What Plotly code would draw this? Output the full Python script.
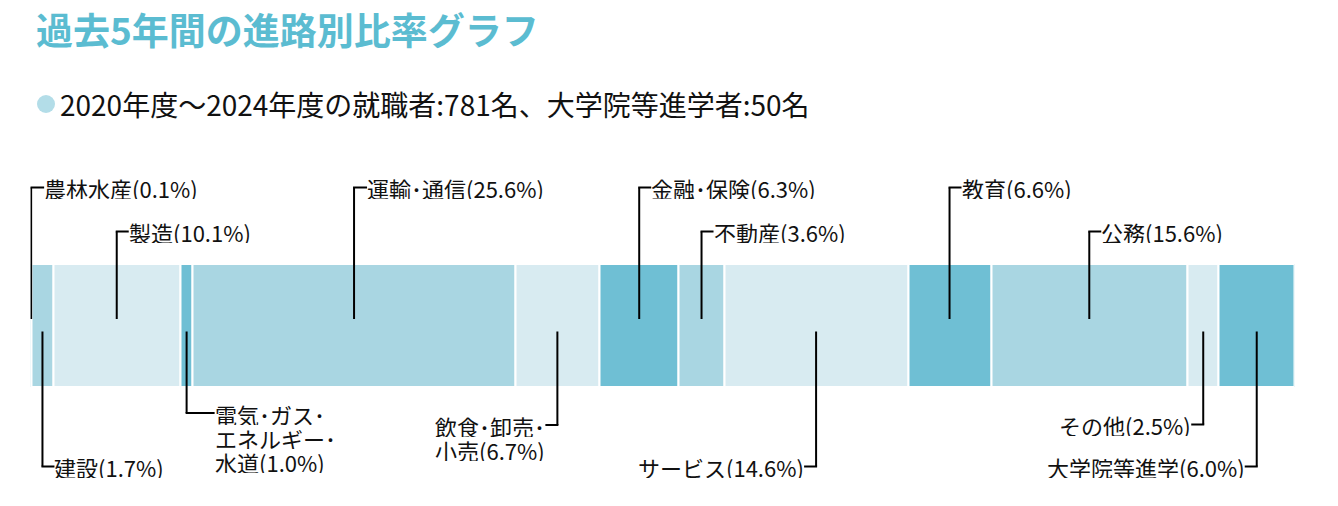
import plotly.graph_objects as go

# ---- data ----
categories = ["農林水産", "建設", "製造", "電気･ガス･エネルギー･水道", "運輸･通信",
              "飲食･卸売･小売", "金融･保険", "不動産", "サービス", "教育", "公務",
              "その他", "大学院等進学"]
shares = [0.1, 1.7, 10.1, 1.0, 25.6, 6.7, 6.3, 3.6, 14.6, 6.6, 15.6, 2.5, 6.0]
label_lines = [["農林水産"], ["建設"], ["製造"], ["電気･ガス･", "エネルギー･", "水道"],
               ["運輸･通信"], ["飲食･卸売･", "小売"], ["金融･保険"], ["不動産"],
               ["サービス"], ["教育"], ["公務"], ["その他"], ["大学院等進学"]]
title_text = "過去5年間の進路別比率グラフ"
subtitle_text = "2020年度～2024年度の就職者:781名、大学院等進学者:50名"

# ---- styles / placement ----
W, H = 1338, 506
DARK, MED, LIGHT = "#6fbfd4", "#a9d6e2", "#d8ebf1"
colors = [DARK, MED, LIGHT] * 5
# (side, label y in px, direction, stub px)
placement = [
    ("top", 187.5, "right", 13), ("bottom", 466.5, "right", 12),
    ("top", 231.5, "right", 12), ("bottom", 413, "right", 28),
    ("top", 187.5, "right", 13), ("bottom", 425, "left", 12),
    ("top", 187.5, "right", 12), ("top", 231.5, "right", 12),
    ("bottom", 466.5, "left", 12), ("top", 187.5, "right", 12),
    ("top", 231.5, "right", 12), ("bottom", 424.5, "left", 12),
    ("bottom", 466.5, "left", 12),
]
FONT = "Noto Sans CJK JP"
LABEL_SIZE = 22
LINE_PITCH = 24
bar_top, bar_bot = 264, 386.5
bar_px_left, bar_px_right = 30.5, 1294.5

total = sum(shares)
bases = []
acc = 0.0
for v in shares:
    bases.append(acc)
    acc += v
centers = [b + v / 2 for b, v in zip(bases, shares)]

fig = go.Figure()
fig.add_trace(go.Bar(
    x=shares, base=bases, y=[(bar_top + bar_bot) / 2] * len(shares),
    width=(bar_bot - bar_top) + 1, orientation="h",
    marker=dict(color=colors[:len(shares)], line=dict(color="white", width=2)),
    hoverinfo="skip", showlegend=False,
))

shapes = []
annotations = []
for i, (cx, v) in enumerate(zip(centers, shares)):
    side, ly, direc, stub = placement[i]
    lines = list(label_lines[i])
    lines[-1] = lines[-1] + f"({v:.1f}%)"
    if side == "top":
        y0, y1 = ly, 319
    else:
        y0, y1 = 331.5, ly
    lw = dict(color="black", width=2)
    shapes.append(dict(type="line", xref="x", yref="y", x0=cx, x1=cx, y0=y0, y1=y1, line=lw))
    sgn = 1 if direc == "right" else -1
    shapes.append(dict(type="line", xref="x", yref="y", xsizemode="pixel", xanchor=cx,
                       x0=-sgn, x1=sgn * stub, y0=ly, y1=ly, line=lw))
    for j, t in enumerate(lines):
        annotations.append(dict(
            xref="x", yref="y", x=cx, y=ly + j * LINE_PITCH, text=t, showarrow=False,
            xanchor="left" if direc == "right" else "right", yanchor="middle",
            xshift=sgn * (stub - 1), height=LINE_PITCH - 1, borderpad=0,
            font=dict(family=FONT, size=LABEL_SIZE, color="#111111"),
        ))

# title and subtitle
annotations.append(dict(xref="paper", yref="y", x=34 / W, y=29, text=title_text,
                        showarrow=False, xanchor="left", yanchor="middle",
                        font=dict(family=FONT, size=37, color="#5bbcd1", weight="bold")))
annotations.append(dict(xref="paper", yref="y", x=58 / W, y=104, text=subtitle_text,
                        showarrow=False, xanchor="left", yanchor="middle",
                        font=dict(family=FONT, size=28, color="#111111")))
shapes.append(dict(type="circle", xref="paper", yref="y", x0=37 / W, x1=55 / W,
                   y0=95, y1=113, fillcolor="#b3dde8", line=dict(width=0)))

fig.update_layout(
    width=W, height=H, margin=dict(l=0, r=0, t=0, b=0),
    paper_bgcolor="white", plot_bgcolor="white",
    xaxis=dict(range=[0, total], domain=[bar_px_left / W, bar_px_right / W],
               visible=False, fixedrange=True),
    yaxis=dict(range=[H, 0], domain=[0, 1], visible=False, fixedrange=True),
    shapes=shapes, annotations=annotations, bargap=0, hovermode=False,
)
fig.write_html("out.html", config={"displayModeBar": False},
               post_script="document.body.style.margin='0px';")
